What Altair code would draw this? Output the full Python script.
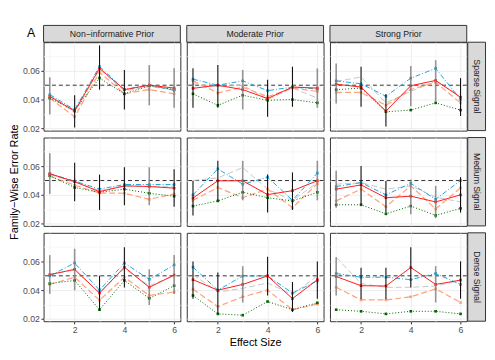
import altair as alt
import pandas as pd

FONT = "Liberation Sans"

signals = ["Sparse Signal", "Medium Signal", "Dense Signal"]
priors = ["Non\u2212informative Prior", "Moderate Prior", "Strong Prior"]
effect_sizes = [1, 2, 3, 4, 5, 6]
y_ticks = [0.02, 0.03, 0.04, 0.05, 0.06, 0.07]
target_rate = [0.05]

# panel order: Sparse(Non, Mod, Strong), Medium(...), Dense(...)
red_vals = [
    [0.0423, 0.0320, 0.0617, 0.0469, 0.0500, 0.0480],
    [0.0478, 0.0500, 0.0469, 0.0407, 0.0487, 0.0480],
    [0.0507, 0.0487, 0.0320, 0.0496, 0.0533, 0.0416],
    [0.0547, 0.0492, 0.0422, 0.0463, 0.0458, 0.0447],
    [0.0378, 0.0498, 0.0498, 0.0402, 0.0429, 0.0498],
    [0.0440, 0.0469, 0.0380, 0.0391, 0.0351, 0.0400],
    [0.0508, 0.0545, 0.0380, 0.0560, 0.0420, 0.0505],
    [0.0473, 0.0400, 0.0440, 0.0499, 0.0341, 0.0473],
    [0.0495, 0.0431, 0.0429, 0.0558, 0.0440, 0.0470],
]
blue_vals = [
    [0.0434, 0.0330, 0.0630, 0.0470, 0.0500, 0.0464],
    [0.0542, 0.0500, 0.0530, 0.0462, 0.0487, 0.0473],
    [0.0530, 0.0510, 0.0423, 0.0549, 0.0617, 0.0400],
    [0.0547, 0.0496, 0.0440, 0.0472, 0.0472, 0.0472],
    [0.0400, 0.0581, 0.0474, 0.0523, 0.0362, 0.0552],
    [0.0458, 0.0485, 0.0400, 0.0480, 0.0369, 0.0500],
    [0.0500, 0.0589, 0.0400, 0.0589, 0.0475, 0.0576],
    [0.0560, 0.0400, 0.0499, 0.0499, 0.0380, 0.0464],
    [0.0516, 0.0490, 0.0490, 0.0473, 0.0516, 0.0440],
]
orange_vals = [
    [0.0410, 0.0280, 0.0590, 0.0440, 0.0470, 0.0440],
    [0.0530, 0.0446, 0.0487, 0.0420, 0.0480, 0.0457],
    [0.0450, 0.0450, 0.0360, 0.0470, 0.0519, 0.0377],
    [0.0530, 0.0467, 0.0413, 0.0411, 0.0369, 0.0407],
    [0.0362, 0.0451, 0.0380, 0.0440, 0.0311, 0.0478],
    [0.0358, 0.0440, 0.0317, 0.0463, 0.0302, 0.0449],
    [0.0440, 0.0490, 0.0330, 0.0490, 0.0363, 0.0387],
    [0.0407, 0.0286, 0.0354, 0.0400, 0.0264, 0.0303],
    [0.0420, 0.0332, 0.0332, 0.0354, 0.0409, 0.0314],
]
green_vals = [
    [0.0410, 0.0325, 0.0550, 0.0440, 0.0496, 0.0470],
    [0.0440, 0.0360, 0.0430, 0.0395, 0.0400, 0.0377],
    [0.0469, 0.0480, 0.0315, 0.0327, 0.0377, 0.0327],
    [0.0534, 0.0451, 0.0418, 0.0440, 0.0411, 0.0391],
    [0.0322, 0.0358, 0.0418, 0.0380, 0.0358, 0.0418],
    [0.0331, 0.0331, 0.0268, 0.0322, 0.0257, 0.0306],
    [0.0446, 0.0468, 0.0264, 0.0468, 0.0343, 0.0431],
    [0.0363, 0.0235, 0.0226, 0.0321, 0.0264, 0.0312],
    [0.0264, 0.0253, 0.0235, 0.0253, 0.0253, 0.0235],
]
gray_vals = [
    [0.0420, 0.0310, 0.0610, 0.0460, 0.0490, 0.0470],
    [0.0510, 0.0490, 0.0500, 0.0400, 0.0480, 0.0410],
    [0.0526, 0.0557, 0.0377, 0.0457, 0.0526, 0.0430],
    [0.0540, 0.0490, 0.0430, 0.0460, 0.0460, 0.0460],
    [0.0500, 0.0518, 0.0590, 0.0440, 0.0360, 0.0485],
    [0.0474, 0.0485, 0.0440, 0.0463, 0.0384, 0.0351],
    [0.0510, 0.0540, 0.0380, 0.0550, 0.0430, 0.0500],
    [0.0508, 0.0387, 0.0413, 0.0450, 0.0369, 0.0500],
    [0.0629, 0.0446, 0.0420, 0.0420, 0.0429, 0.0468],
]
err_lo = [
    [0.0297, 0.0206, 0.0469, 0.0331, 0.0360, 0.0343],
    [0.0343, 0.0343, 0.0331, 0.0281, 0.0350, 0.0343],
    [0.0373, 0.0350, 0.0213, 0.0354, 0.0389, 0.0286],
    [0.0407, 0.0355, 0.0295, 0.0328, 0.0328, 0.0317],
    [0.0257, 0.0362, 0.0362, 0.0277, 0.0295, 0.0362],
    [0.0311, 0.0329, 0.0277, 0.0266, 0.0239, 0.0277],
    [0.0374, 0.0400, 0.0259, 0.0418, 0.0297, 0.0374],
    [0.0341, 0.0237, 0.0314, 0.0363, 0.0248, 0.0341],
    [0.0363, 0.0336, 0.0336, 0.0418, 0.0314, 0.0341],
]
err_hi = [
    [0.0555, 0.0430, 0.0777, 0.0606, 0.0640, 0.0617],
    [0.0617, 0.0640, 0.0606, 0.0537, 0.0629, 0.0617],
    [0.0651, 0.0629, 0.0439, 0.0633, 0.0674, 0.0549],
    [0.0690, 0.0623, 0.0541, 0.0592, 0.0592, 0.0579],
    [0.0496, 0.0637, 0.0637, 0.0541, 0.0556, 0.0637],
    [0.0568, 0.0601, 0.0496, 0.0507, 0.0463, 0.0523],
    [0.0644, 0.0688, 0.0501, 0.0699, 0.0545, 0.0644],
    [0.0600, 0.0523, 0.0567, 0.0633, 0.0457, 0.0600],
    [0.0629, 0.0556, 0.0556, 0.0699, 0.0567, 0.0600],
]
err_kind = [
    ["gray", "black", "black", "black", "gray", "gray"],
    ["black", "black", "gray", "black", "black", "gray"],
    ["gray", "black", "black", "gray", "gray", "black"],
    ["gray", "black", "black", "black", "gray", "black"],
    ["black", "black", "gray", "black", "black", "gray"],
    ["gray", "black", "black", "gray", "gray", "black"],
    ["gray", "gray", "black", "black", "gray", "gray"],
    ["black", "black", "gray", "black", "black", "black"],
    ["gray", "black", "black", "black", "gray", "black"],
]

series_data = {
    "gray": gray_vals,
    "orange": orange_vals,
    "green": green_vals,
    "blue": blue_vals,
    "red": red_vals,
}
series_style = {
    "gray": dict(color="#c6c6c6", dash=[6, 3], width=1.0, point=False),
    "orange": dict(color="#FFA07A", dash=[6, 3], width=1.2, point=True),
    "green": dict(color="#006400", dash=[1, 2], width=1.0, point=True),
    "blue": dict(color="#1CA6DC", dash=[5, 2, 1, 2], width=1.0, point=True),
    "red": dict(color="#FF1A1A", dash=None, width=1.0, point=True),
}

PW, PH = 138.5, 89.5
COLSP, ROWSP = 6, 6.5
STRIP_H = 17
RSTRIP_W = 18
X_DOMAIN = [0.75, 6.25]
Y_DOMAIN = [0.0184, 0.0799]

x_grid_color = {"condition": {"test": "datum.value % 2 == 1", "value": "#f3f3f3"}, "value": "#e8e8e8"}
y_grid_color = {"condition": {"test": "round(datum.value * 100) % 2 == 1", "value": "#f3f3f3"}, "value": "#e8e8e8"}
x_tick_op = {"condition": {"test": "datum.value % 2 == 1", "value": 0}, "value": 1}
y_tick_op = {"condition": {"test": "round(datum.value * 100) % 2 == 1", "value": 0}, "value": 1}

PANEL_VIEW = alt.ViewBackground(stroke="#333333", strokeWidth=1)
NO_VIEW = alt.ViewBackground(stroke="transparent")


def x_enc(field, bottom, title):
    if bottom:
        axis = alt.Axis(values=effect_sizes, labelExpr="datum.value % 2 == 0 ? format(datum.value, 'd') : ''",
                        tickOpacity=x_tick_op, gridColor=x_grid_color, domain=False, titlePadding=2.5)
    else:
        axis = alt.Axis(values=effect_sizes, labels=False, ticks=False, domain=False, gridColor=x_grid_color)
    return alt.X(field, type="quantitative", scale=alt.Scale(domain=X_DOMAIN, nice=False, zero=False),
                 axis=axis, title=title)


def y_enc(field, left, title):
    if left:
        axis = alt.Axis(values=y_ticks,
                        labelExpr="round(datum.value * 100) % 2 == 0 ? format(datum.value, '.2f') : ''",
                        tickOpacity=y_tick_op, gridColor=y_grid_color, domain=False)
    else:
        axis = alt.Axis(values=y_ticks, labels=False, ticks=False, domain=False, gridColor=y_grid_color)
    return alt.Y(field, type="quantitative", scale=alt.Scale(domain=Y_DOMAIN, nice=False, zero=False),
                 axis=axis, title=title)


def panel(i, j):
    k = i * 3 + j
    bottom = i == 2
    left = j == 0
    xt = "Effect Size" if (bottom and j == 1) else None
    yt = "Family\u2212Wise Error Rate" if (left and i == 1) else None

    layers = []
    ref = pd.DataFrame({"value": target_rate})
    layers.append(alt.Chart(ref).mark_rule(color="black", strokeDash=[4, 3], strokeWidth=0.8).encode(
        y=y_enc("value", left, yt)))

    for name, vals in series_data.items():
        st = series_style[name]
        df = pd.DataFrame({"x": effect_sizes, "value": vals[k]})
        base = alt.Chart(df).encode(x=x_enc("x", bottom, xt), y=y_enc("value", left, yt))
        kw = dict(color=st["color"], strokeWidth=st["width"])
        if st["dash"]:
            kw["strokeDash"] = st["dash"]
        layers.append(base.mark_line(**kw))
        if st["point"]:
            layers.append(base.mark_point(shape="square", filled=True, size=7, color=st["color"], opacity=1))

    edf = pd.DataFrame({"x": effect_sizes, "lo": err_lo[k], "hi": err_hi[k], "kind": err_kind[k]})
    for kind, col, w, op in [("gray", "#7a7a7a", 1.6, 0.8), ("black", "#111111", 1.1, 1.0)]:
        layers.append(alt.Chart(edf).transform_filter(alt.datum.kind == kind).mark_rule(
            color=col, strokeWidth=w, opacity=op).encode(
            x=x_enc("x", bottom, xt), y=y_enc("lo", left, yt), y2="hi:Q"))

    return alt.layer(*layers).properties(width=PW, height=PH, view=PANEL_VIEW)


def col_strip(label, tag):
    # drawn shifted down by the row spacing so it touches the panel below
    base = alt.Chart(pd.DataFrame({"label": [label]}))
    rect = base.mark_rect(fill="#d9d9d9", stroke="#333333", strokeWidth=1).encode(
        x=alt.value(0), x2=alt.value(PW), y=alt.value(ROWSP), y2=alt.value(ROWSP + STRIP_H))
    txt = base.mark_text(font=FONT, fontSize=8.8, color="#1a1a1a").encode(
        x=alt.value(PW / 2), y=alt.value(ROWSP + STRIP_H / 2 + 0.3), text="label:N")
    layers = [rect, txt]
    if tag:
        layers.append(alt.Chart(pd.DataFrame({"t": [tag]})).mark_text(
            font=FONT, fontSize=12.5, color="black").encode(
            x=alt.value(-12.5), y=alt.value(ROWSP + 8.2), text="t:N"))
    return alt.layer(*layers).properties(width=PW, height=STRIP_H, view=NO_VIEW)


def row_strip(label):
    # drawn shifted left so it touches the panel on its left
    x0 = -COLSP + 0.5
    w = RSTRIP_W + x0
    base = alt.Chart(pd.DataFrame({"label": [label]}))
    rect = base.mark_rect(fill="#d9d9d9", stroke="#333333", strokeWidth=1).encode(
        x=alt.value(x0), x2=alt.value(w), y=alt.value(0), y2=alt.value(PH))
    txt = base.mark_text(font=FONT, fontSize=8.8, color="#1a1a1a", angle=90).encode(
        x=alt.value((x0 + w) / 2), y=alt.value(PH / 2), text="label:N")
    return alt.layer(rect, txt).properties(width=w, height=PH, view=NO_VIEW)


def blank(w, h):
    return alt.Chart(pd.DataFrame({"e": [0]})).mark_point(opacity=0).encode(
        x=alt.value(0), y=alt.value(0)).properties(width=w, height=h, view=NO_VIEW)


cells = [col_strip(p, "A" if j == 0 else "") for j, p in enumerate(priors)]
cells.append(blank(RSTRIP_W - COLSP + 0.5, STRIP_H))
for i, s in enumerate(signals):
    for j in range(3):
        cells.append(panel(i, j))
    cells.append(row_strip(s))

chart = alt.concat(
    *cells, columns=4, spacing={"row": ROWSP, "column": COLSP}, bounds="flush", align="each"
).properties(
    padding={"left": 0, "top": 5, "right": 0, "bottom": 0}
).configure_view(
    stroke="transparent"
).configure_axis(
    labelFont=FONT, labelFontSize=8.8, labelColor="#4d4d4d",
    titleFont=FONT, titleFontSize=11, titleColor="black", titleFontWeight="normal",
    tickColor="#333333", tickSize=2.7, labelPadding=1.5, titlePadding=3, gridWidth=0.8
)

chart.save("out.html", embed_options={"renderer": "svg", "actions": False})
